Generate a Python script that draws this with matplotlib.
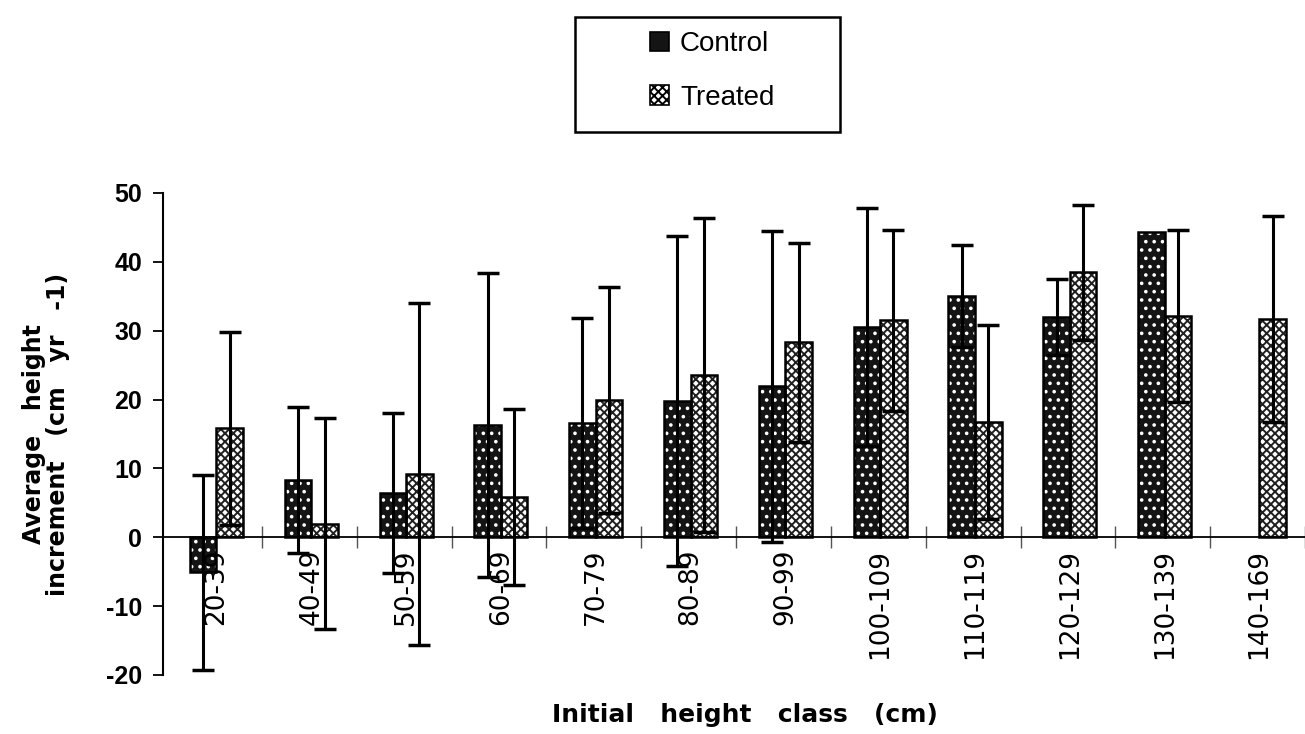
import numpy as np
import matplotlib
matplotlib.use("Agg")
import matplotlib.pyplot as plt
from matplotlib.patches import Patch, Rectangle

categories = ['20-39', '40-49', '50-59', '60-69', '70-79', '80-89', '90-99',
              '100-109', '110-119', '120-129', '130-139', '140-169']
control_mean = [-5.1, 8.3, 6.4, 16.3, 16.6, 19.8, 21.9, 30.5, 35.0, 32.0, 44.3, np.nan]
control_sd = [14.2, 10.6, 11.6, 22.1, 15.2, 23.9, 22.6, 17.3, 7.4, 5.5, np.nan, np.nan]
treated_mean = [15.8, 2.0, 9.2, 5.8, 19.9, 23.6, 28.3, 31.5, 16.7, 38.5, 32.1, 31.7]
treated_sd = [14.0, 15.3, 24.8, 12.8, 16.4, 22.8, 14.4, 13.1, 14.1, 9.8, 12.5, 15.0]
yticks = [-20, -10, 0, 10, 20, 30, 40, 50]
ytick_labels = ['-20', '-10', '0', '10', '20', '30', '40', '50']

plt.rcParams['font.family'] = ['Liberation Sans', 'DejaVu Sans']
plt.rcParams['axes.unicode_minus'] = False
plt.rcParams['hatch.linewidth'] = 1.4

fig = plt.figure(figsize=(13.05, 7.34), dpi=100)
ax = fig.add_axes([163/1305, 1-675/734, 1-163/1305, (675-193)/734])

x = np.arange(len(categories))
w = 0.28
cm = np.array(control_mean, dtype=float)
cs = np.array(control_sd, dtype=float)
tm = np.array(treated_mean, dtype=float)
ts = np.array(treated_sd, dtype=float)

# control bars: black with white dots
ax.bar(x - w/2, cm, w, facecolor='#141414', edgecolor='white', hatch='..', linewidth=0, zorder=2)
ax.bar(x - w/2, cm, w, fill=False, edgecolor='black', linewidth=1.8, zorder=3)
# treated bars: white with dark pattern
ax.bar(x + w/2, tm, w, facecolor='white', edgecolor='#202020', hatch='xxxx', linewidth=0, zorder=2)
ax.bar(x + w/2, tm, w, fill=False, edgecolor='black', linewidth=1.8, zorder=3)

mc = np.isfinite(cm) & np.isfinite(cs)
ax.errorbar(x[mc] - w/2, cm[mc], yerr=cs[mc], fmt='none', ecolor='black',
            elinewidth=2.2, capsize=8, capthick=2.5, zorder=4, clip_on=False)
mt = np.isfinite(tm) & np.isfinite(ts)
ax.errorbar(x[mt] + w/2, tm[mt], yerr=ts[mt], fmt='none', ecolor='black',
            elinewidth=2.2, capsize=8, capthick=2.5, zorder=4, clip_on=False)

ax.set_ylim(-20, 50)
ax.set_xlim(-0.564, 11.366)
ax.set_yticks(yticks)
ax.set_yticklabels(ytick_labels, fontsize=18, fontweight='bold')
ax.tick_params(axis='y', direction='out', length=7, width=1.3, pad=8)

ax.spines['top'].set_visible(False)
ax.spines['right'].set_visible(False)
ax.spines['left'].set_linewidth(1.5)
ax.spines['bottom'].set_position(('data', 0))
ax.spines['bottom'].set_linewidth(1.3)
ax.set_xticks(np.arange(len(categories)) + 0.48)
ax.set_xticklabels([])
ax.tick_params(axis='x', direction='inout', length=16, width=1.0, color='#555555')
ax.patch.set_alpha(0)

for xi, lab in zip(x, categories):
    ax.text(xi, -1.7, lab, rotation=90, ha='center', va='top',
            fontsize=19, family='DejaVu Sans', zorder=5)

ax.set_ylabel('Average   height\nincrement   (cm   yr   -1)', fontsize=17,
              family='DejaVu Sans', fontweight='bold', linespacing=1.0, labelpad=26)
fig.text(745/1305, 1-715/734, 'Initial   height   class   (cm)', ha='center',
         va='center', fontsize=18, family='DejaVu Sans', fontweight='bold')

# legend
handles = [Patch(facecolor='#141414', edgecolor='black', linewidth=1.2),
           Patch(facecolor='white', edgecolor='black', hatch='xxxx', linewidth=1.2)]
fig.legend(handles, ['Control', 'Treated'], loc='center', bbox_to_anchor=(712/1305, 1-71/734),
           frameon=False, fontsize=20, handlelength=0.7, handleheight=0.7,
           handletextpad=0.4, labelspacing=1.0)
fig.add_artist(Rectangle((575/1305, 1-132/734), (840-575)/1305, (132-17)/734,
                         transform=fig.transFigure, fill=False, edgecolor='black',
                         linewidth=1.8))

fig.savefig('out.png', dpi=100)
